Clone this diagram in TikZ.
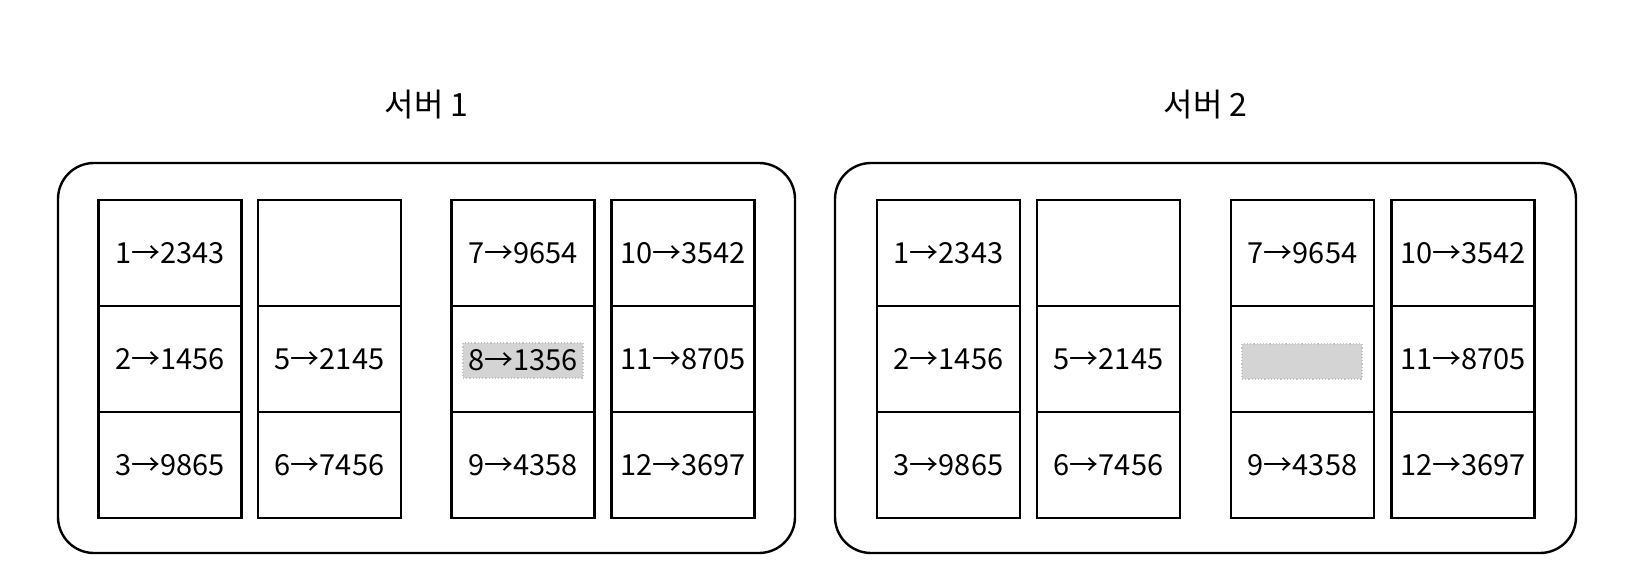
\documentclass[tikz,border=0pt]{standalone}
\usepackage{fontspec}
\setmainfont{Noto Sans CJK KR}
\begin{document}
\begin{tikzpicture}[x=0.5pt,y=-0.5pt,
  server/.style={draw, line width=1.2pt, rounded corners=18pt, inner sep=0pt},
  cell/.style={draw, line width=1.2pt, minimum width=71.5pt, minimum height=53pt, inner sep=0pt, font=\fontsize{14.5}{17}\selectfont},
  title/.style={font=\fontsize{16}{19}\selectfont},
  hl/.style={fill=black!17, draw=black!24, densely dotted, line width=0.6pt, minimum width=60pt, minimum height=17.5pt, inner sep=0pt, font=\fontsize{14.5}{17}\selectfont}
]
\useasboundingbox (0,0) rectangle (1632,588);

% servers
\node[server, minimum width=368.5pt, minimum height=195pt] (s1) at (426.5,358) {};
\node[server, minimum width=370.5pt, minimum height=195pt] (s2) at (1205.5,358) {};
\node[title] (t1) at (426.5,105) {서버 1};
\node[title] (t2) at (1205.5,105) {서버 2};

% server 1 cells
\node[cell] (a11) at (170,253) {1→2343};
\node[cell] (a12) at (170,359) {2→1456};
\node[cell] (a13) at (170,465) {3→9865};
\node[cell] (a21) at (329.5,253) {};
\node[cell] (a22) at (329.5,359) {5→2145};
\node[cell] (a23) at (329.5,465) {6→7456};
\node[cell] (a31) at (523,253) {7→9654};
\node[cell] (a32) at (523,359) {};
\node[cell] (a33) at (523,465) {9→4358};
\node[cell] (a41) at (683,253) {10→3542};
\node[cell] (a42) at (683,359) {11→8705};
\node[cell] (a43) at (683,465) {12→3697};
\node[hl] (h1) at (523,360.5) {8→1356};

% server 2 cells
\node[cell] (b11) at (948.5,253) {1→2343};
\node[cell] (b12) at (948.5,359) {2→1456};
\node[cell] (b13) at (948.5,465) {3→9865};
\node[cell] (b21) at (1108.5,253) {};
\node[cell] (b22) at (1108.5,359) {5→2145};
\node[cell] (b23) at (1108.5,465) {6→7456};
\node[cell] (b31) at (1302.5,253) {7→9654};
\node[cell] (b32) at (1302.5,359) {};
\node[cell] (b33) at (1302.5,465) {9→4358};
\node[cell] (b41) at (1463,253) {10→3542};
\node[cell] (b42) at (1463,359) {11→8705};
\node[cell] (b43) at (1463,465) {12→3697};
\node[hl] (h2) at (1302,361.5) {};
\end{tikzpicture}
\end{document}
